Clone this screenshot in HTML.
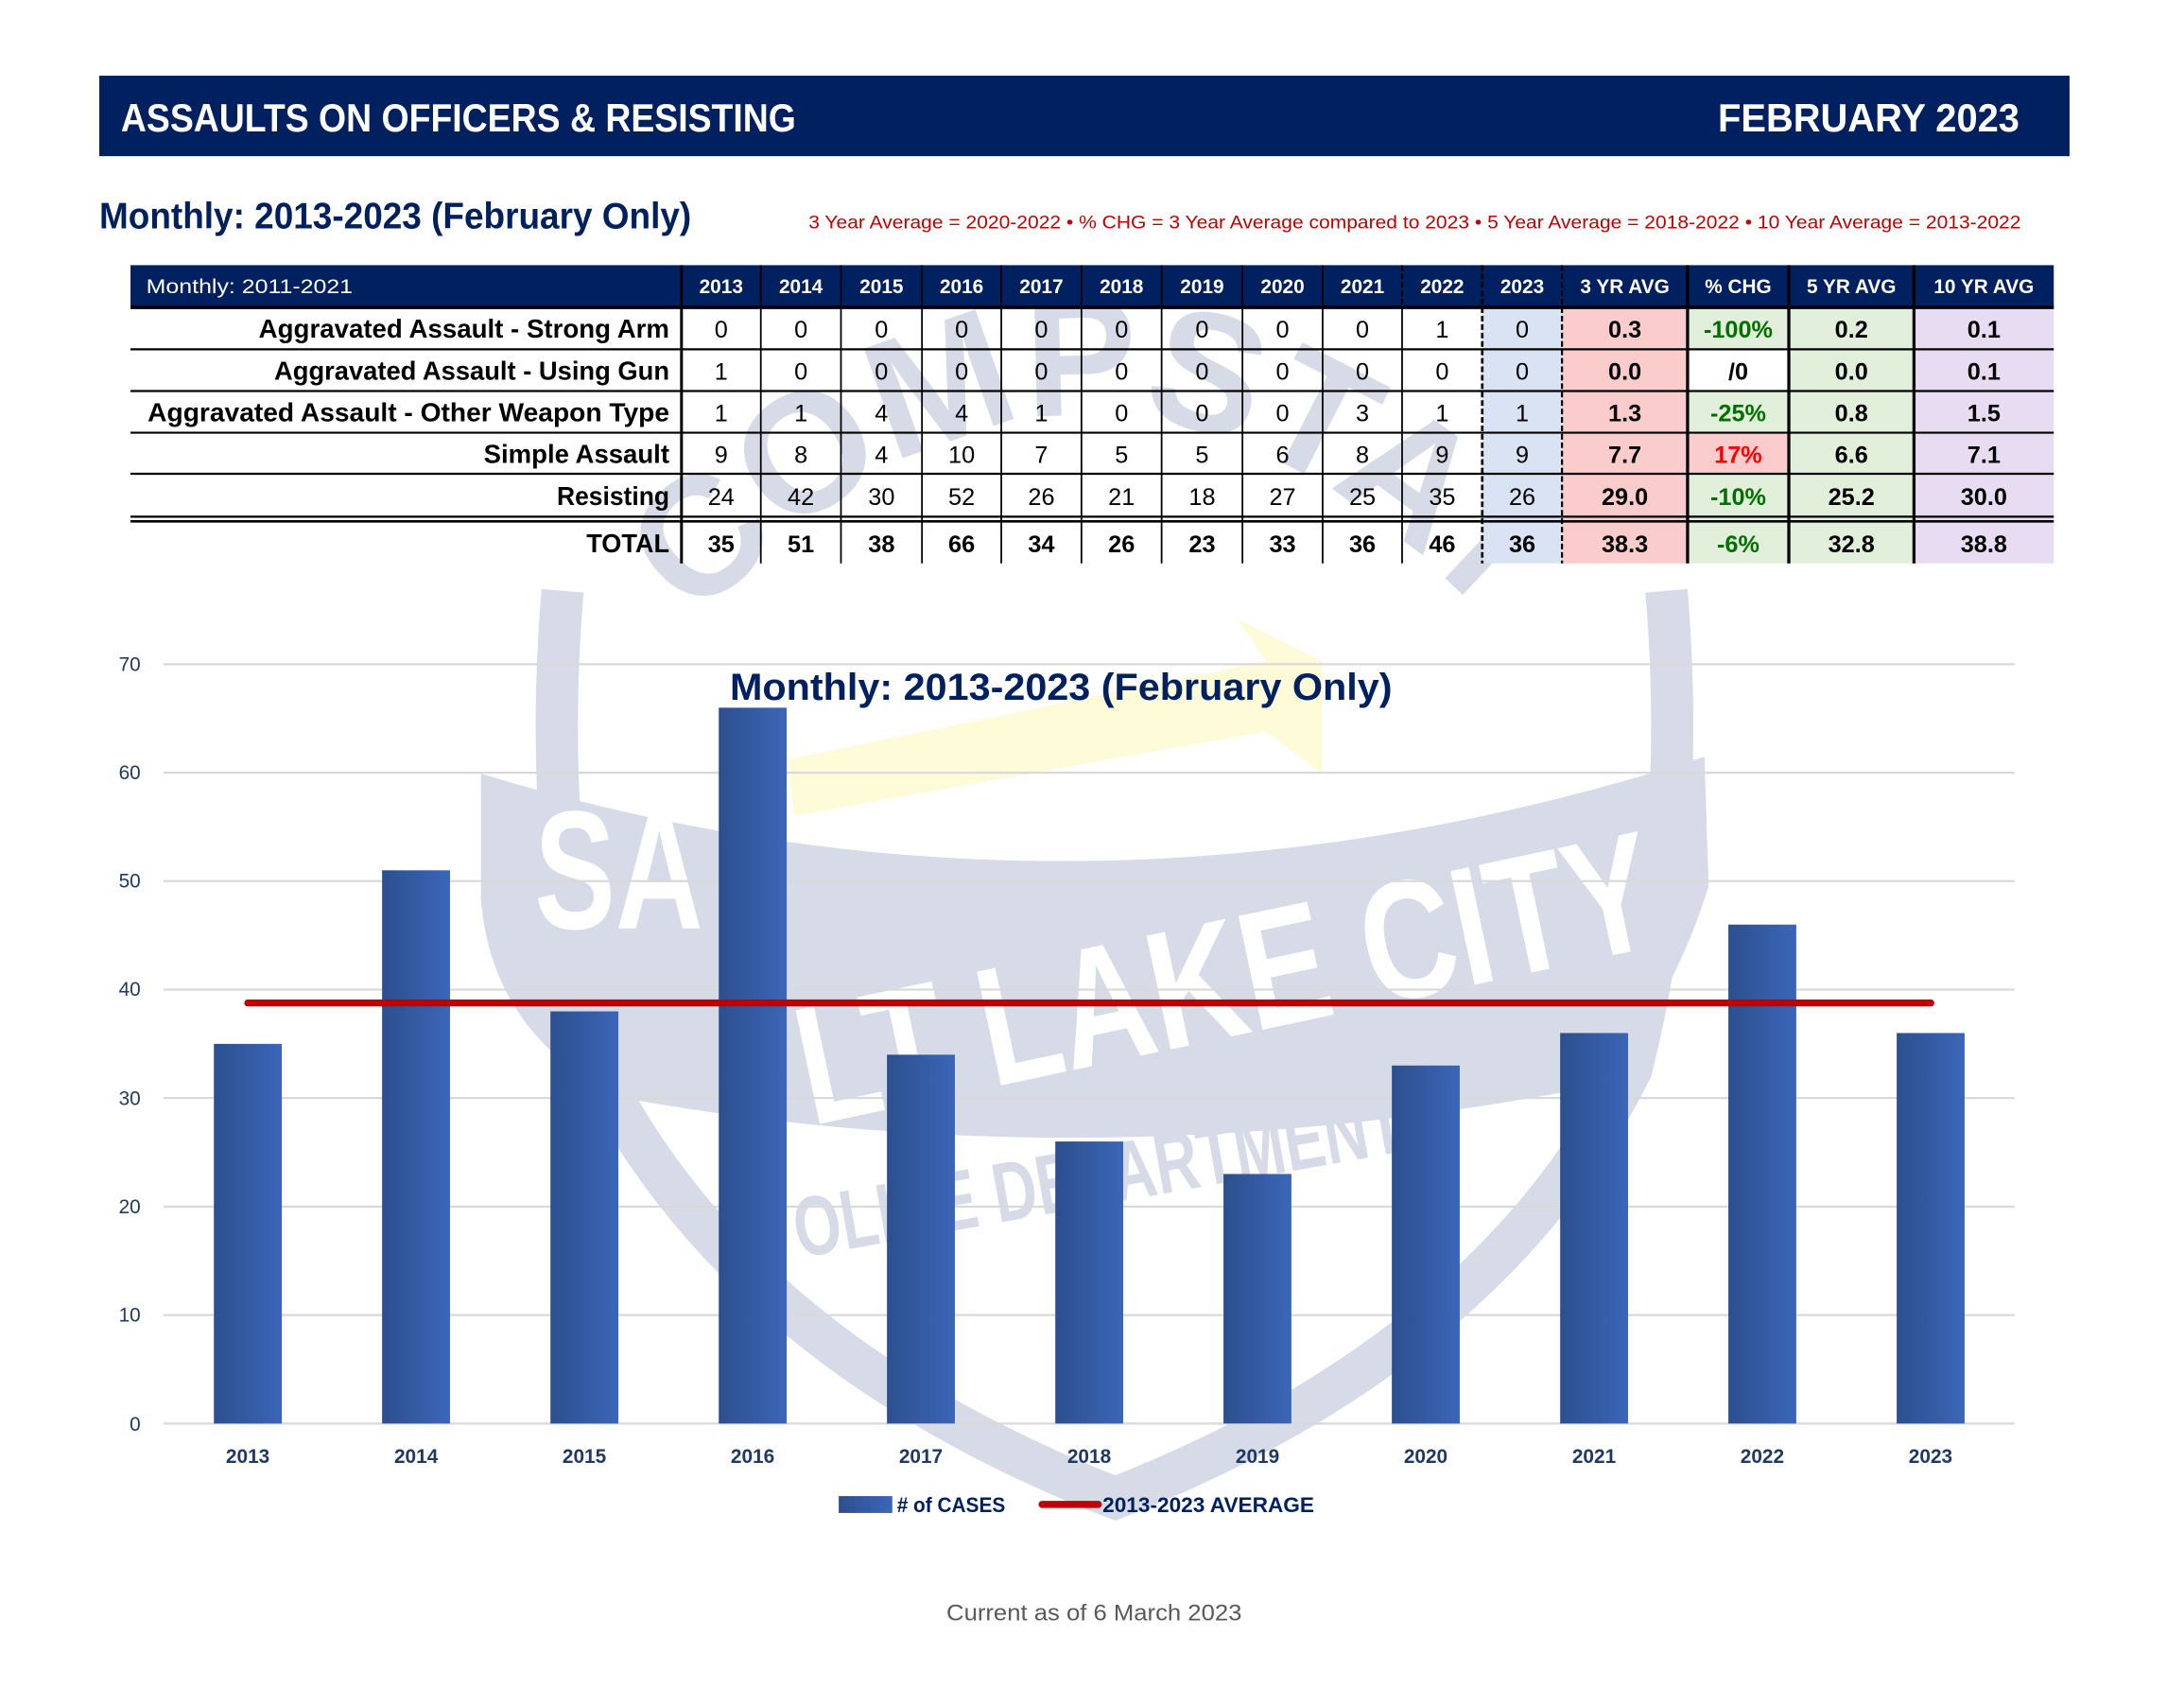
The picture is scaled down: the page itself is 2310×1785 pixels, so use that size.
<!DOCTYPE html>
<html><head><meta charset="utf-8"><style>html,body{margin:0;padding:0;background:#fff}svg{display:block}text{font-family:"Liberation Sans",sans-serif}</style></head>
<body>
<svg width="2310" height="1785" viewBox="0 0 1553 1200" xmlns="http://www.w3.org/2000/svg">
<defs>
<linearGradient id="bg" x1="0" x2="1" y1="0" y2="0"><stop offset="0" stop-color="#2c4f8e"/><stop offset="1" stop-color="#3b66b8"/></linearGradient>
<path id="arc" d="M470,470 Q775,120 1085,470"/>
</defs>
<rect width="1553" height="1200" fill="#fff"/>
<!-- watermark -->
<g fill="#d7dae7" stroke="none">
<path d="M400,420 Q385,600 425,760 Q525,960 793,1065 Q1060,960 1160,760 Q1200,600 1185,420" fill="none" stroke="#d7dae7" stroke-width="30"/>
<path d="M342,550 Q770,680 1212,538 L1215,630 Q1180,740 1120,775 Q770,840 440,780 Q350,735 342,640 Z"/>
<path d="M560,540 L900,470 L880,440 L940,470 L940,550 L900,520 L565,580 Z" fill="#fdfbd8"/>
<text font-size="120" font-weight="bold"><textPath href="#arc" startOffset="50%" text-anchor="middle">COMPSTAT</textPath></text>
<text x="380" y="660" font-size="120" font-weight="bold" fill="#fff" textLength="120" lengthAdjust="spacingAndGlyphs">SA</text>
<text x="560" y="760" font-size="120" font-weight="bold" fill="#fff" transform="rotate(-12 760 700)" textLength="620" lengthAdjust="spacingAndGlyphs">LT LAKE CITY</text>
<text x="560" y="860" font-size="60" font-weight="bold" transform="rotate(-10 760 830)" textLength="440" lengthAdjust="spacingAndGlyphs">OLICE DEPARTMENT</text>
</g>
<!-- banner -->
<rect x="70.6" y="53.8" width="1401" height="57.2" fill="#012060"/>
<text x="86" y="93.5" font-size="28" font-weight="bold" fill="#fff" textLength="480" lengthAdjust="spacingAndGlyphs">ASSAULTS ON OFFICERS &amp; RESISTING</text>
<text x="1221.6" y="93.5" font-size="28" font-weight="bold" fill="#fff" textLength="214.4" lengthAdjust="spacingAndGlyphs">FEBRUARY  2023</text>
<text x="70.6" y="162.5" font-size="26" font-weight="bold" fill="#012060" textLength="421" lengthAdjust="spacingAndGlyphs">Monthly:  2013-2023 (February Only)</text>
<text x="575" y="162.5" font-size="13" fill="#c00000" textLength="862" lengthAdjust="spacingAndGlyphs">3 Year Average = 2020-2022 • % CHG = 3 Year Average compared to 2023 • 5 Year Average = 2018-2022 • 10 Year Average = 2013-2022</text>
<!-- table -->
<rect x="92.8" y="188.5" width="1367.6" height="30" fill="#012060"/>
<rect x="1054" y="218.5" width="56.7" height="182" fill="#dae3f3"/>
<rect x="1110.7" y="218.5" width="89.3" height="182" fill="#fbcccc"/>
<rect x="1200" y="218.5" width="72" height="182" fill="#e2efda"/>
<rect x="1200" y="248.3" width="72" height="29.7" fill="#fff"/>
<rect x="1200" y="307.6" width="72" height="29.2" fill="#fbcccc"/>
<rect x="1272" y="218.5" width="89" height="182" fill="#e2efda"/>
<rect x="1361" y="218.5" width="99.4" height="182" fill="#e8dcf3"/>
<text x="104" y="208.4" font-size="14" fill="#fff" textLength="146.8" lengthAdjust="spacingAndGlyphs">Monthly: 2011-2021</text>
<g font-size="14" font-weight="bold" fill="#fff" text-anchor="middle">
<text x="512.8" y="208.4">2013</text><text x="569.5" y="208.4">2014</text><text x="626.8" y="208.4">2015</text><text x="683.8" y="208.4">2016</text><text x="740.5" y="208.4">2017</text><text x="797.5" y="208.4">2018</text><text x="854.8" y="208.4">2019</text><text x="912" y="208.4">2020</text><text x="968.8" y="208.4">2021</text><text x="1025.5" y="208.4">2022</text><text x="1082.4" y="208.4">2023</text><text x="1155.4" y="208.4">3 YR AVG</text><text x="1236" y="208.4">% CHG</text><text x="1316.5" y="208.4">5 YR AVG</text><text x="1410.7" y="208.4">10 YR AVG</text>
</g>
<g stroke="#000" fill="none">
<line x1="92.8" x2="1460.4" y1="218.5" y2="218.5" stroke-width="2.5"/>
<line x1="92.8" x2="1460.4" y1="248.3" y2="248.3" stroke-width="1.5"/>
<line x1="92.8" x2="1460.4" y1="278" y2="278" stroke-width="1.5"/>
<line x1="92.8" x2="1460.4" y1="307.6" y2="307.6" stroke-width="1.5"/>
<line x1="92.8" x2="1460.4" y1="336.8" y2="336.8" stroke-width="1.5"/>
<line x1="92.8" x2="1460.4" y1="367.3" y2="367.3" stroke-width="1.5"/>
<line x1="92.8" x2="1460.4" y1="370.6" y2="370.6" stroke-width="1.8"/>
<line x1="484.6" x2="484.6" y1="188.5" y2="400.5" stroke-width="2"/>
<g stroke-width="1.2">
<line x1="541" x2="541" y1="188.5" y2="400.5"/><line x1="598" x2="598" y1="188.5" y2="400.5"/><line x1="655.6" x2="655.6" y1="188.5" y2="400.5"/><line x1="712" x2="712" y1="188.5" y2="400.5"/><line x1="769" x2="769" y1="188.5" y2="400.5"/><line x1="826" x2="826" y1="188.5" y2="400.5"/><line x1="883.5" x2="883.5" y1="188.5" y2="400.5"/><line x1="940.5" x2="940.5" y1="188.5" y2="400.5"/><line x1="997" x2="997" y1="218.5" y2="400.5"/>
</g>
<line x1="997" x2="997" y1="188.5" y2="218.5" stroke-dasharray="4 2" stroke-width="1.5"/>
<line x1="1054" x2="1054" y1="188.5" y2="400.5" stroke-dasharray="4 2" stroke-width="1.8"/>
<line x1="1110.7" x2="1110.7" y1="188.5" y2="400.5" stroke-dasharray="4 2" stroke-width="1.5"/>
<line x1="1200" x2="1200" y1="188.5" y2="400.5" stroke-width="2.2"/>
<line x1="1272" x2="1272" y1="188.5" y2="400.5" stroke-width="2.2"/>
<line x1="1361" x2="1361" y1="188.5" y2="400.5" stroke-width="2.2"/>
</g>
<g font-size="18.5" font-weight="bold" fill="#000" text-anchor="end">
<text x="476" y="240" textLength="292" lengthAdjust="spacingAndGlyphs">Aggravated Assault - Strong Arm</text>
<text x="476" y="270" textLength="281" lengthAdjust="spacingAndGlyphs">Aggravated Assault - Using Gun</text>
<text x="476" y="299.5" textLength="371" lengthAdjust="spacingAndGlyphs">Aggravated Assault - Other Weapon Type</text>
<text x="476" y="329" textLength="132" lengthAdjust="spacingAndGlyphs">Simple Assault</text>
<text x="476" y="359" textLength="80" lengthAdjust="spacingAndGlyphs">Resisting</text>
<text x="476" y="392.5" textLength="59" lengthAdjust="spacingAndGlyphs">TOTAL</text>
</g>
<g font-size="17" fill="#000" text-anchor="middle">
<g transform="translate(0,240)"><text x="512.8">0</text><text x="569.5">0</text><text x="626.8">0</text><text x="683.8">0</text><text x="740.5">0</text><text x="797.5">0</text><text x="854.8">0</text><text x="912">0</text><text x="968.8">0</text><text x="1025.5">1</text><text x="1082.4">0</text></g>
<g transform="translate(0,270)"><text x="512.8">1</text><text x="569.5">0</text><text x="626.8">0</text><text x="683.8">0</text><text x="740.5">0</text><text x="797.5">0</text><text x="854.8">0</text><text x="912">0</text><text x="968.8">0</text><text x="1025.5">0</text><text x="1082.4">0</text></g>
<g transform="translate(0,299.5)"><text x="512.8">1</text><text x="569.5">1</text><text x="626.8">4</text><text x="683.8">4</text><text x="740.5">1</text><text x="797.5">0</text><text x="854.8">0</text><text x="912">0</text><text x="968.8">3</text><text x="1025.5">1</text><text x="1082.4">1</text></g>
<g transform="translate(0,329)"><text x="512.8">9</text><text x="569.5">8</text><text x="626.8">4</text><text x="683.8">10</text><text x="740.5">7</text><text x="797.5">5</text><text x="854.8">5</text><text x="912">6</text><text x="968.8">8</text><text x="1025.5">9</text><text x="1082.4">9</text></g>
<g transform="translate(0,359)"><text x="512.8">24</text><text x="569.5">42</text><text x="626.8">30</text><text x="683.8">52</text><text x="740.5">26</text><text x="797.5">21</text><text x="854.8">18</text><text x="912">27</text><text x="968.8">25</text><text x="1025.5">35</text><text x="1082.4">26</text></g>
</g>
<g font-size="17" font-weight="bold" fill="#000" text-anchor="middle">
<g transform="translate(0,392.5)"><text x="512.8">35</text><text x="569.5">51</text><text x="626.8">38</text><text x="683.8">66</text><text x="740.5">34</text><text x="797.5">26</text><text x="854.8">23</text><text x="912">33</text><text x="968.8">36</text><text x="1025.5">46</text><text x="1082.4">36</text></g>
<text x="1155.4" y="240">0.3</text><text x="1155.4" y="270">0.0</text><text x="1155.4" y="299.5">1.3</text><text x="1155.4" y="329">7.7</text><text x="1155.4" y="359">29.0</text><text x="1155.4" y="392.5">38.3</text>
<text x="1236" y="240" fill="#007000">-100%</text><text x="1236" y="270">/0</text><text x="1236" y="299.5" fill="#007000">-25%</text><text x="1236" y="329" fill="#ff0000">17%</text><text x="1236" y="359" fill="#007000">-10%</text><text x="1236" y="392.5" fill="#007000">-6%</text>
<text x="1316.5" y="240">0.2</text><text x="1316.5" y="270">0.0</text><text x="1316.5" y="299.5">0.8</text><text x="1316.5" y="329">6.6</text><text x="1316.5" y="359">25.2</text><text x="1316.5" y="392.5">32.8</text>
<text x="1410.7" y="240">0.1</text><text x="1410.7" y="270">0.1</text><text x="1410.7" y="299.5">1.5</text><text x="1410.7" y="329">7.1</text><text x="1410.7" y="359">30.0</text><text x="1410.7" y="392.5">38.8</text>
</g>
<!-- chart grid -->
<g stroke="#d9d9d9" stroke-width="1.5">
<line x1="116.2" x2="1432.6" y1="472.2" y2="472.2"/><line x1="116.2" x2="1432.6" y1="549.3" y2="549.3"/><line x1="116.2" x2="1432.6" y1="626.4" y2="626.4"/><line x1="116.2" x2="1432.6" y1="703.5" y2="703.5"/><line x1="116.2" x2="1432.6" y1="780.6" y2="780.6"/><line x1="116.2" x2="1432.6" y1="857.8" y2="857.8"/><line x1="116.2" x2="1432.6" y1="934.9" y2="934.9"/><line x1="116.2" x2="1432.6" y1="1012" y2="1012"/>
</g>
<g font-size="14" fill="#1f3864" text-anchor="end">
<text x="100" y="477">70</text><text x="100" y="554">60</text><text x="100" y="631">50</text><text x="100" y="708">40</text><text x="100" y="785.5">30</text><text x="100" y="862.5">20</text><text x="100" y="939.5">10</text><text x="100" y="1017">0</text>
</g>
<g fill="url(#bg)">
<rect x="152.1" y="742.1" width="48.3" height="269.9"/>
<rect x="271.7" y="618.7" width="48.3" height="393.3"/>
<rect x="391.4" y="719" width="48.3" height="293"/>
<rect x="511.1" y="503.1" width="48.3" height="508.9"/>
<rect x="630.7" y="749.8" width="48.3" height="262.2"/>
<rect x="750.4" y="811.5" width="48.3" height="200.5"/>
<rect x="870" y="834.6" width="48.3" height="177.4"/>
<rect x="989.7" y="757.5" width="48.3" height="254.5"/>
<rect x="1109.4" y="734.4" width="48.3" height="277.6"/>
<rect x="1229" y="657.3" width="48.3" height="354.7"/>
<rect x="1348.7" y="734.4" width="48.3" height="277.6"/>
</g>
<line x1="176.2" x2="1373" y1="713" y2="713" stroke="#c00000" stroke-width="5" stroke-linecap="round"/>
<text x="754.5" y="497.6" font-size="27" font-weight="bold" fill="#012060" text-anchor="middle" textLength="471" lengthAdjust="spacingAndGlyphs">Monthly: 2013-2023 (February Only)</text>
<g font-size="14" font-weight="bold" fill="#1f3864" text-anchor="middle">
<text x="176.2" y="1040">2013</text><text x="295.9" y="1040">2014</text><text x="415.5" y="1040">2015</text><text x="535.2" y="1040">2016</text><text x="654.8" y="1040">2017</text><text x="774.5" y="1040">2018</text><text x="894.2" y="1040">2019</text><text x="1013.8" y="1040">2020</text><text x="1133.5" y="1040">2021</text><text x="1253.1" y="1040">2022</text><text x="1372.8" y="1040">2023</text>
</g>
<rect x="596.4" y="1063.6" width="38.1" height="12" fill="url(#bg)"/>
<text x="637.8" y="1075" font-size="15" font-weight="bold" fill="#012060" textLength="77" lengthAdjust="spacingAndGlyphs"># of CASES</text>
<line x1="741" x2="781" y1="1069.5" y2="1069.5" stroke="#c00000" stroke-width="5" stroke-linecap="round"/>
<text x="784" y="1075" font-size="15" font-weight="bold" fill="#012060" textLength="150.5" lengthAdjust="spacingAndGlyphs">2013-2023 AVERAGE</text>
<text x="778" y="1152" font-size="16" fill="#595959" text-anchor="middle" textLength="210" lengthAdjust="spacingAndGlyphs">Current as of 6 March 2023</text>
</svg>
</body></html>
